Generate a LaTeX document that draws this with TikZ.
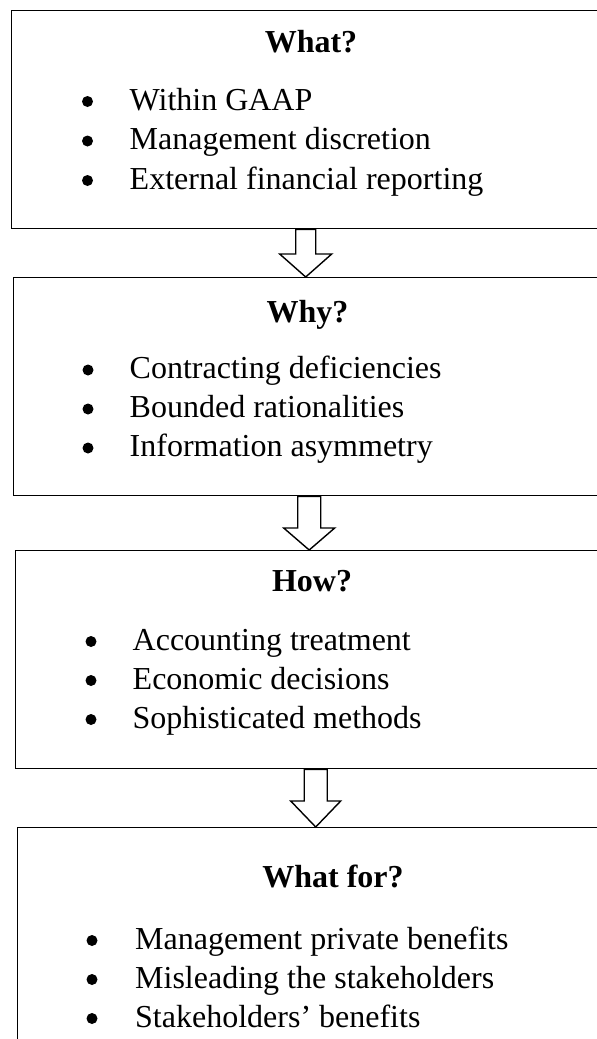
\documentclass[tikz,border=0pt]{standalone}
\usepackage{fontspec}
\setmainfont{Liberation Serif}
\usetikzlibrary{calc}
\begin{document}
\begin{tikzpicture}[x=1pt,y=-1pt,
  boxframe/.style={draw, line width=1.4pt, inner sep=0pt, anchor=north west},
  blockarrow/.style={draw, line width=1.4pt, fill=white, line join=miter},
  titletext/.style={font=\fontsize{32}{39}\selectfont\bfseries, anchor=base, inner sep=0pt},
  itemtext/.style={font=\fontsize{32}{39}\selectfont, anchor=base west, inner sep=0pt},
  bulletdot/.style={circle, fill=black, inner sep=0pt, minimum size=11pt}]
\useasboundingbox (0,0) rectangle (597,1039);
\begin{scope}
\clip (0,0) rectangle (597,1039);
% boxes
\node[boxframe, minimum width=588pt, minimum height=218pt] (b1) at (11,10) {};
\node[boxframe, minimum width=591pt, minimum height=218pt] (b2) at (13,277) {};
\node[boxframe, minimum width=600pt, minimum height=218pt] (b3) at (15,550) {};
\node[boxframe, minimum width=632pt, minimum height=260pt] (b4) at (17,827) {};
% arrows
\foreach \a/\b/\sw/\hw/\hl in {b1/b2/10/26/23, b2/b3/11.5/25.5/22, b3/b4/11.5/25/26}{
  \coordinate (tip) at (\a.south |- \b.north);
  \draw[blockarrow] ($(\a.south)+(-\sw,0)$) -- ($(tip)+(-\sw,-\hl)$) -- ($(tip)+(-\hw,-\hl)$)
    -- (tip) -- ($(tip)+(\hw,-\hl)$) -- ($(tip)+(\sw,-\hl)$) -- ($(\a.south)+(\sw,0)$) -- cycle;
}
% box 1
\node[titletext] (t1) at (311,52) {What?};
\node[bulletdot] (d11) at (87.5,101.5) {};
\node[itemtext] (i11) at (129.5,110) {Within GAAP};
\node[bulletdot] (d12) at (87.5,141) {};
\node[itemtext] (i12) at (129.5,149.5) {Management discretion};
\node[bulletdot] (d13) at (87.5,180.5) {};
\node[itemtext] (i13) at (129.5,189) {External financial reporting};
% box 2
\node[titletext] (t2) at (307.5,322) {Why?};
\node[bulletdot] (d21) at (88,370) {};
\node[itemtext] (i21) at (129.5,378.5) {Contracting deficiencies};
\node[bulletdot] (d22) at (88,409) {};
\node[itemtext] (i22) at (129.5,417.5) {Bounded rationalities};
\node[bulletdot] (d23) at (88,448) {};
\node[itemtext] (i23) at (129.5,456.5) {Information asymmetry};
% box 3
\node[titletext] (t3) at (312,591) {How?};
\node[bulletdot] (d31) at (91,641.5) {};
\node[itemtext] (i31) at (132.5,650) {Accounting treatment};
\node[bulletdot] (d32) at (91,680.5) {};
\node[itemtext] (i32) at (132.5,689) {Economic decisions};
\node[bulletdot] (d33) at (91,719.5) {};
\node[itemtext] (i33) at (132.5,728) {Sophisticated methods};
% box 4
\node[titletext] (t4) at (333,887) {What for?};
\node[bulletdot] (d41) at (92,940.5) {};
\node[itemtext] (i41) at (135,949) {Management private benefits};
\node[bulletdot] (d42) at (92,979.5) {};
\node[itemtext] (i42) at (135,988) {Misleading the stakeholders};
\node[bulletdot] (d43) at (92,1018.5) {};
\node[itemtext] (i43) at (135,1027) {Stakeholders’ benefits};
\end{scope}
\end{tikzpicture}
\end{document}
